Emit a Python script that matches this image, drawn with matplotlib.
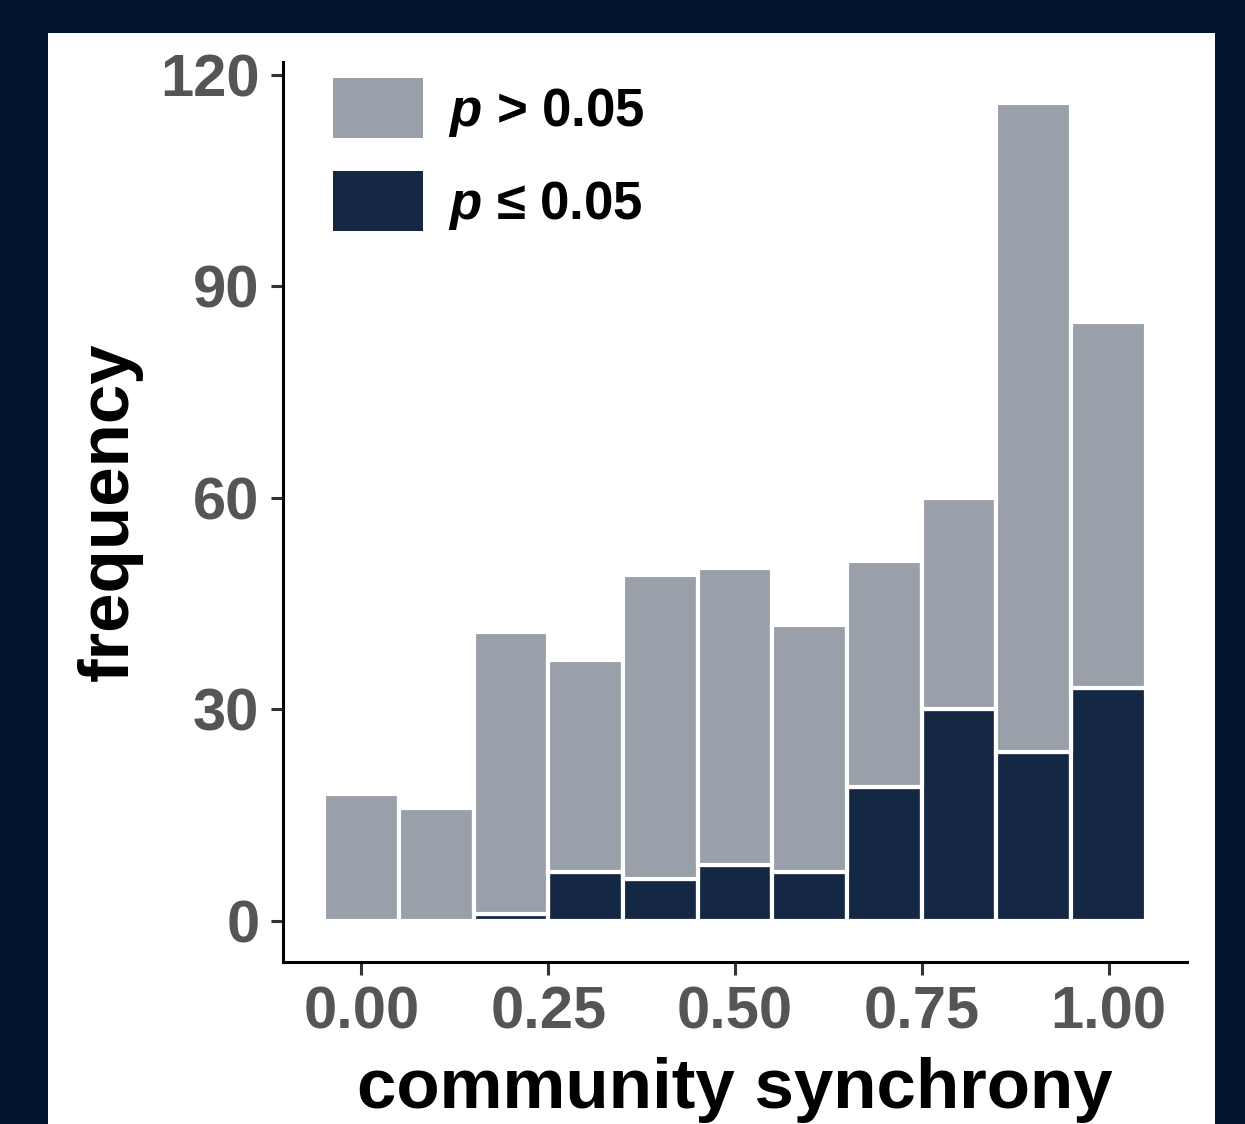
import matplotlib
matplotlib.use("Agg")
import matplotlib.pyplot as plt
from matplotlib.patches import Rectangle, Patch

plt.rcParams['font.family'] = ['Liberation Sans', 'DejaVu Sans']
plt.rcParams['mathtext.fontset'] = 'custom'
plt.rcParams['mathtext.it'] = 'Liberation Sans:italic:bold'
plt.rcParams['mathtext.rm'] = 'Liberation Sans:bold'

# data: histogram bins (centres), counts
bin_centers = [0.0, 0.1, 0.2, 0.3, 0.4, 0.5, 0.6, 0.7, 0.8, 0.9, 1.0]
bin_width = 0.1
sig_counts = [0, 0, 1, 7, 6, 8, 7, 19, 30, 24, 33]        # p <= 0.05
total_counts = [18, 16, 41, 37, 49, 50, 42, 51, 60, 116, 85]
nonsig_counts = [t - s for t, s in zip(total_counts, sig_counts)]  # p > 0.05
x_ticks = [0.00, 0.25, 0.50, 0.75, 1.00]
x_ticklabels = ["0.00", "0.25", "0.50", "0.75", "1.00"]
y_ticks = [0, 30, 60, 90, 120]
legend_labels = [r"$p$ > 0.05", r"$p$ ≤ 0.05"]

W, H = 1245, 1124
fig = plt.figure(figsize=(W / 100, H / 100), dpi=100)
fig.patch.set_facecolor("#00142e")
fig.patches.append(Rectangle((48 / W, 0), (1215 - 48) / W, (H - 33) / H,
                             transform=fig.transFigure, facecolor="white",
                             edgecolor="none", zorder=-10))

ax = fig.add_axes([283 / W, 1 - 962 / H, (1187 - 283) / W, (962 - 62) / H])
ax.set_facecolor("none")

grey = "#9aa0aa"
navy = "#142844"
ax.bar(bin_centers, sig_counts, width=bin_width, color=navy,
       edgecolor="white", linewidth=3.0, label=legend_labels[1], zorder=2)
ax.bar(bin_centers, nonsig_counts, width=bin_width, bottom=sig_counts,
       color=grey, edgecolor="white", linewidth=3.0, label=legend_labels[0],
       zorder=2)

ax.set_xlim(-0.105, 1.105)
ax.set_ylim(-5.8, 121.8)
ax.set_xticks(x_ticks)
ax.set_xticklabels(x_ticklabels)
ax.set_yticks(y_ticks)

for s in ["top", "right"]:
    ax.spines[s].set_visible(False)
for s in ["left", "bottom"]:
    ax.spines[s].set_linewidth(2.2)
    ax.spines[s].set_color("black")

ax.tick_params(axis="both", length=9, width=2.2, color="#333333",
               labelcolor="#555555", labelsize=43, pad=8)
for lab in ax.get_xticklabels() + ax.get_yticklabels():
    lab.set_fontweight("bold")

ax.set_xlabel("community synchrony", fontsize=51, fontweight="bold",
              color="black", labelpad=12)
ax.set_ylabel("frequency", fontsize=51, fontweight="bold", color="black",
              labelpad=12)

handles = [Patch(facecolor=grey, edgecolor="none"),
           Patch(facecolor=navy, edgecolor="none")]
leg = ax.legend(handles, legend_labels, loc="upper left",
                bbox_to_anchor=(0.0553, 0.982), frameon=False,
                prop={"size": 38, "weight": "bold"},
                handlelength=1.70, handleheight=1.37, labelspacing=0.61,
                handletextpad=0.47, borderpad=0.0, borderaxespad=0.0)

fig.savefig("out.png", dpi=100, facecolor=fig.get_facecolor())
